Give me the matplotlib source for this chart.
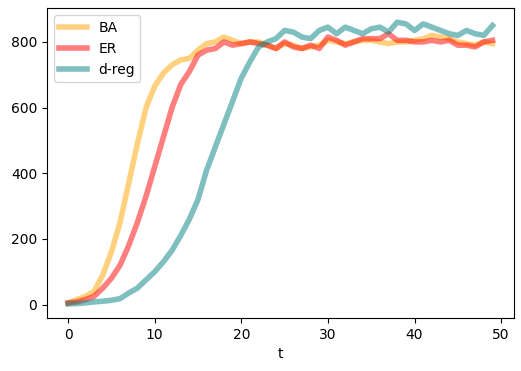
import matplotlib
matplotlib.use("Agg")
import matplotlib.pyplot as plt
import numpy as np

t = np.arange(50)
ba = [5, 15, 25, 40, 90, 160, 250, 370, 490, 600, 665, 705, 730, 745, 750, 775, 795, 800, 815, 805,
      795, 800, 800, 790, 780, 795, 790, 780, 785, 790, 805, 800, 795, 800, 805, 805, 800, 795, 800, 800,
      805, 810, 820, 815, 810, 800, 795, 790, 800, 795]
er = [5, 8, 15, 25, 50, 80, 120, 180, 250, 330, 420, 510, 600, 670, 710, 760, 775, 780, 800, 790,
      795, 800, 795, 790, 780, 800, 785, 780, 790, 780, 815, 805, 790, 800, 810, 810, 810, 825, 805, 805,
      800, 800, 805, 800, 805, 790, 790, 785, 800, 805]
dreg = [2, 3, 5, 8, 10, 13, 18, 35, 50, 75, 100, 130, 165, 210, 260, 320, 410, 480, 550, 620,
        690, 740, 785, 800, 810, 835, 830, 815, 810, 835, 845, 825, 845, 835, 825, 840, 845, 830, 860, 855,
        835, 855, 845, 835, 825, 820, 835, 825, 820, 850]

fig = plt.figure(figsize=(5.21, 3.71), dpi=100)
ax = fig.add_axes([0.09, 0.143, 0.896, 0.835])
ax.plot(t, ba, color='orange', alpha=0.5, lw=4, label='BA')
ax.plot(t, er, color='red', alpha=0.5, lw=4, label='ER')
ax.plot(t, dreg, color='teal', alpha=0.5, lw=4, label='d-reg')
ax.set_xlabel('t')
ax.legend(loc='upper left')
fig.savefig('out.png', dpi=100)
